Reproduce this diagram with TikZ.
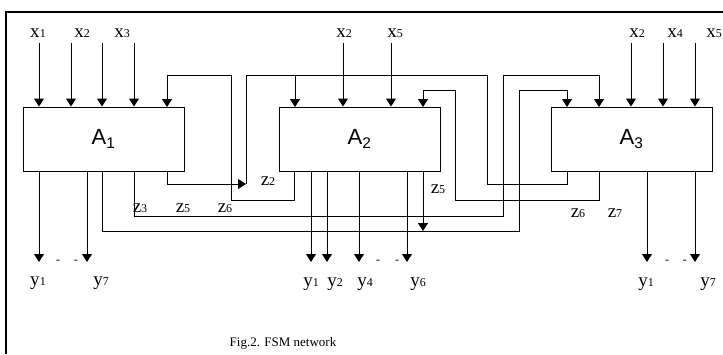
\documentclass[tikz,border=0pt]{standalone}
\usepackage{fontspec}
\setmainfont{Liberation Serif}
\newfontfamily\arialfont{Liberation Sans}
\usetikzlibrary{arrows.meta}
\newcommand{\varlbl}[2]{#1{\fontsize{12}{12}\selectfont #2}}

\begin{document}
\begin{tikzpicture}[x=1pt,y=-1pt,line width=1pt,>={Triangle[width=10pt,length=8pt]},
    fsm/.style={draw,minimum width=161pt,minimum height=64pt,inner sep=0pt,
      font=\arialfont\fontsize{22}{22}\selectfont},
    sig/.style={inner sep=0pt,anchor=base,font=\fontsize{19}{19}\selectfont},
    gap/.style={inner sep=0pt,font=\fontsize{12}{12}\selectfont}]
  \useasboundingbox (0,0) rectangle (723,354);
  \draw[line width=2pt] (6,354) -- (6,12) -- (723,12);
  % automata
  \node[fsm] (a1) at (103.5,139) {A\textsubscript{1}};
  \node[fsm] (a2) at (359.5,139) {A\textsubscript{2}};
  \node[fsm] (a3) at (631.5,139) {A\textsubscript{3}};
  % ports
  \foreach \x in {102,134,167} \coordinate (a1b\x) at (\x,171);
  \coordinate (a1t167) at (167,107);
  \foreach \x in {294,423} \coordinate (a2b\x) at (\x,171);
  \foreach \x in {295,423} \coordinate (a2t\x) at (\x,107);
  \foreach \x in {567,599} {\coordinate (a3b\x) at (\x,171); \coordinate (a3t\x) at (\x,107);}
  \coordinate (j1) at (246,184);
  \coordinate (j2) at (423,231);
  % inputs
  \node[sig] (x11) at (38,37) {\varlbl{x}{1}};
  \node[sig] (x12) at (82,37) {\varlbl{x}{2}};
  \node[sig] (x13) at (122,37) {\varlbl{x}{3}};
  \node[sig] (x22) at (344,37) {\varlbl{x}{2}};
  \node[sig] (x25) at (395,37) {\varlbl{x}{5}};
  \node[sig] (x32) at (637,37) {\varlbl{x}{2}};
  \node[sig] (x34) at (675,37) {\varlbl{x}{4}};
  \node[sig] (x35) at (714,37) {\varlbl{x}{5}};
  \foreach \x [count=\i] in {39,71,102,134}
    \draw[->] (\x,43) coordinate (i1\i) -- (i1\i |- a1.north);
  \foreach \x [count=\i] in {343,391}
    \draw[->] (\x,43) coordinate (i2\i) -- (i2\i |- a2.north);
  \foreach \x [count=\i] in {631,663,695}
    \draw[->] (\x,43) coordinate (i3\i) -- (i3\i |- a3.north);
  % outputs
  \foreach \x [count=\i] in {39,87}
    {\coordinate (o1\i) at (\x,262); \draw[->] (o1\i |- a1.south) -- (o1\i);}
  \foreach \x [count=\i] in {311,327,359,407}
    {\coordinate (o2\i) at (\x,262); \draw[->] (o2\i |- a2.south) -- (o2\i);}
  \foreach \x [count=\i] in {647,695}
    {\coordinate (o3\i) at (\x,262); \draw[->] (o3\i |- a3.south) -- (o3\i);}
  \node[sig] (y11) at (38,285) {\varlbl{y}{1}};
  \node[sig] (y17) at (101,285) {\varlbl{y}{7}};
  \node[sig] (y21) at (311,286) {\varlbl{y}{1}};
  \node[sig] (y22) at (335,286) {\varlbl{y}{2}};
  \node[sig] (y24) at (365,286) {\varlbl{y}{4}};
  \node[sig] (y26) at (418,286) {\varlbl{y}{6}};
  \node[sig] (y31) at (646,286) {\varlbl{y}{1}};
  \node[sig] (y37) at (708,286) {\varlbl{y}{7}};
  \node[gap] (g1) at (67,262) {-\hspace{14pt}-};
  \node[gap] (g2) at (387.5,262) {-\hspace{15pt}-};
  \node[gap] (g3) at (676,262) {-\hspace{14pt}-};
  % links between automata
  \draw[->] (a2b294) |- (231,200) -- (231,75) -| (a1t167);
  \draw[->] (a1b167) |- (j1);
  \draw (j1) -- (246,75) -| (487,184) -| (a3b567);
  \draw[->] (295,75) -- (a2t295);
  \draw[->] (a1b102) |- (519,231) -- (519,90) -| (a3t567);
  \draw[->] (a1b134) |- (503,216) -- (503,75) -| (a3t599);
  \draw[->] (a2b423) -- (j2);
  \draw[->] (a3b599) |- (455,200) -- (455,90) -| (a2t423);
  \node[sig] (z2) at (268,185) {\varlbl{z}{2}};
  \node[sig] (z13) at (140,212) {\varlbl{z}{3}};
  \node[sig] (z15) at (183,212) {\varlbl{z}{5}};
  \node[sig] (z16) at (225,212) {\varlbl{z}{6}};
  \node[sig] (z25) at (438,193) {\varlbl{z}{5}};
  \node[sig] (z36) at (578,217) {\varlbl{z}{6}};
  \node[sig] (z37) at (615,217) {\varlbl{z}{7}};
  \node[font=\fontsize{13}{13}\selectfont] (cap) at (283,343) {Fig.2. FSM network};
\end{tikzpicture}
\end{document}
